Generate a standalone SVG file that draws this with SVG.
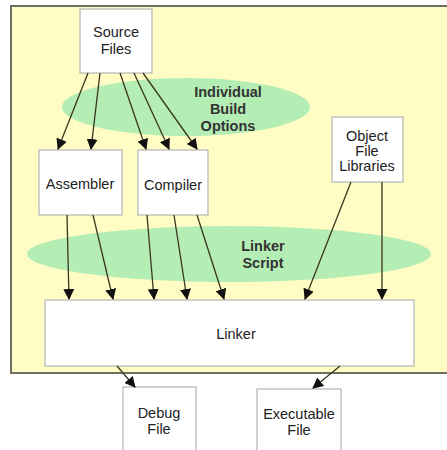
<svg xmlns="http://www.w3.org/2000/svg" width="447" height="450" viewBox="0 0 447 450">
<defs>
<marker id="ah" markerWidth="11" markerHeight="11" refX="10" refY="5.5" orient="auto" markerUnits="userSpaceOnUse">
<path d="M0,0 L11,5.5 L0,11 z" fill="#111"/>
</marker>
<style>
.box{fill:#fff;stroke:#b4b4b4;stroke-width:1.2}
.ell{fill:#b4eeb4;stroke:none}
.t{font-family:"Liberation Sans",Arial,sans-serif;font-size:14.5px;fill:#222;text-anchor:middle}
.b{font-weight:bold;fill:#333}
.c line{stroke:#3a3520;stroke-width:1.3;marker-end:url(#ah)}
</style>
</defs>
<rect width="447" height="450" fill="#fff"/>
<rect x="11" y="6" width="450" height="367" fill="#fffdc4" stroke="#6e6e60" stroke-width="2"/>
<g id="build-options">
<ellipse class="ell" cx="186" cy="107" rx="124" ry="29"/>
<text class="t b" x="228" y="97">Individual</text>
<text class="t b" x="228" y="114">Build</text>
<text class="t b" x="228" y="131">Options</text>
</g>
<g id="linker-script">
<ellipse class="ell" cx="229" cy="254" rx="202" ry="28"/>
<text class="t b" x="263" y="251">Linker</text>
<text class="t b" x="263" y="268">Script</text>
</g>
<g id="source-files">
<rect class="box" x="80" y="9" width="72" height="64"/>
<text class="t" x="116" y="37">Source</text>
<text class="t" x="116" y="54">Files</text>
</g>
<g id="assembler">
<rect class="box" x="39" y="150" width="83" height="65"/>
<text class="t" x="80" y="189">Assembler</text>
</g>
<g id="compiler">
<rect class="box" x="138" y="150" width="70" height="65"/>
<text class="t" x="173" y="190">Compiler</text>
</g>
<g id="object-file-libraries">
<rect class="box" x="332" y="117" width="71" height="65"/>
<text class="t" x="367" y="141">Object</text>
<text class="t" x="367" y="156">File</text>
<text class="t" x="367" y="171">Libraries</text>
</g>
<g id="linker">
<rect class="box" x="45" y="300" width="369" height="66"/>
<text class="t" x="236" y="339">Linker</text>
</g>
<g id="debug-file">
<rect class="box" x="123" y="387" width="73" height="80"/>
<text class="t" x="159" y="418">Debug</text>
<text class="t" x="159" y="434">File</text>
</g>
<g id="executable-file">
<rect class="box" x="257" y="389" width="84" height="80"/>
<text class="t" x="299" y="419">Executable</text>
<text class="t" x="299" y="435">File</text>
</g>
<g id="connectors" class="c">
<line x1="88" y1="73" x2="58" y2="149"/>
<line x1="100" y1="73" x2="91" y2="149"/>
<line x1="120" y1="73" x2="146" y2="149"/>
<line x1="134" y1="73" x2="169" y2="149"/>
<line x1="143" y1="73" x2="197" y2="149"/>
<line x1="67" y1="215" x2="69" y2="299"/>
<line x1="93" y1="215" x2="113" y2="299"/>
<line x1="147" y1="215" x2="154" y2="299"/>
<line x1="174" y1="215" x2="187" y2="299"/>
<line x1="197" y1="215" x2="224" y2="299"/>
<line x1="351" y1="182" x2="305" y2="299"/>
<line x1="382" y1="182" x2="382" y2="299"/>
<line x1="117" y1="366" x2="135" y2="387"/>
<line x1="340" y1="366" x2="313" y2="388"/>
</g>
</svg>
